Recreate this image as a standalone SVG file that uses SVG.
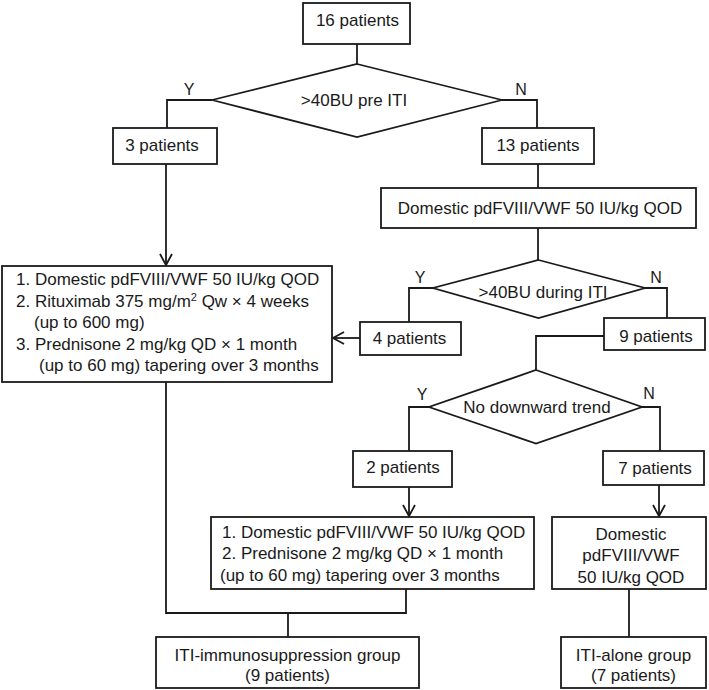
<svg xmlns="http://www.w3.org/2000/svg" width="709" height="690" viewBox="0 0 709 690">
<defs>
<style>
.box{fill:#fff;stroke:#1a1a1a;stroke-width:1.8}
.c{fill:none;stroke:#1a1a1a;stroke-width:1.8}
text{font-family:"Liberation Sans",Arial,sans-serif;font-size:17px;fill:#1a1a1a}
.m{text-anchor:middle}
.yn{font-size:16px;text-anchor:middle}
</style>
<marker id="arr" viewBox="0 0 14 14" refX="12" refY="7" markerWidth="14" markerHeight="14" markerUnits="userSpaceOnUse" orient="auto">
<path d="M1,1 L12,7 L1,13" fill="none" stroke="#1a1a1a" stroke-width="1.8"/>
</marker>
</defs>
<rect width="709" height="690" fill="#fff"/>
<g id="connectors">
<path class="c" d="M357,44 V64"/>
<path class="c" d="M212,100 H167 V128"/>
<path class="c" d="M502,100 H537 V128"/>
<path class="c" d="M166,164 V265" marker-end="url(#arr)"/>
<path class="c" d="M538,164 V188"/>
<path class="c" d="M538,228 V260"/>
<path class="c" d="M433,288 H409 V322"/>
<path class="c" d="M360,338 H333" marker-end="url(#arr)"/>
<path class="c" d="M645,288 H667 V318"/>
<path class="c" d="M604,336 H536 V370"/>
<path class="c" d="M429,407 H409 V451"/>
<path class="c" d="M642,407 H660 V451"/>
<path class="c" d="M409,487 V516" marker-end="url(#arr)"/>
<path class="c" d="M659,485 V516" marker-end="url(#arr)"/>
<path class="c" d="M166,382 V613 H406 V589"/>
<path class="c" d="M288,613 V637"/>
<path class="c" d="M629,589 V637"/>
</g>
<g id="labels">
<text class="yn" x="189" y="95">Y</text>
<text class="yn" x="521" y="95">N</text>
<text class="yn" x="420" y="283">Y</text>
<text class="yn" x="656" y="283">N</text>
<text class="yn" x="422" y="400">Y</text>
<text class="yn" x="649" y="399">N</text>
</g>
<g id="n16">
<rect class="box" x="303" y="3" width="107" height="41"/>
<text class="m" x="357.5" y="26">16 patients</text>
</g>
<g id="d1">
<polygon class="box" points="357,64 502,100 357,137 212,100"/>
<text class="m" x="354" y="105.5">&gt;40BU pre ITI</text>
</g>
<g id="n3">
<rect class="box" x="113" y="128" width="104" height="36"/>
<text class="m" x="162" y="151">3 patients</text>
</g>
<g id="n13">
<rect class="box" x="482" y="128" width="112" height="36"/>
<text class="m" x="538" y="151">13 patients</text>
</g>
<g id="dom1">
<rect class="box" x="381" y="188" width="315" height="40"/>
<text class="m" x="540" y="214">Domestic pdFVIII/VWF 50 IU/kg QOD</text>
</g>
<g id="d2">
<polygon class="box" points="538.5,260 645,288 538.5,318 433,288"/>
<text class="m" x="543" y="298">&gt;40BU during ITI</text>
</g>
<g id="n4">
<rect class="box" x="360" y="322" width="101" height="33"/>
<text class="m" x="409.5" y="344">4 patients</text>
</g>
<g id="n9">
<rect class="box" x="604" y="318" width="101" height="32"/>
<text class="m" x="656" y="342">9 patients</text>
</g>
<g id="left">
<rect class="box" x="2" y="266" width="330" height="116"/>
<text x="16" y="285">1. Domestic pdFVIII/VWF 50 IU/kg QOD</text>
<text x="16" y="306.5">2. Rituximab 375 mg/m<tspan dy="-6" font-size="11">2</tspan><tspan dy="6"> Qw × 4 weeks</tspan></text>
<text x="34" y="328">(up to 600 mg)</text>
<text x="16" y="349.5">3. Prednisone 2 mg/kg QD × 1 month</text>
<text x="39" y="371">(up to 60 mg) tapering over 3 months</text>
</g>
<g id="d3">
<polygon class="box" points="536,370 642,407 536,443.5 429,407"/>
<text class="m" x="537" y="413">No downward trend</text>
</g>
<g id="n2">
<rect class="box" x="353" y="451" width="99" height="36"/>
<text class="m" x="403" y="473">2 patients</text>
</g>
<g id="n7">
<rect class="box" x="603" y="451" width="101" height="34"/>
<text class="m" x="655" y="474">7 patients</text>
</g>
<g id="box2">
<rect class="box" x="211" y="517" width="323" height="72"/>
<text x="222" y="537.5">1. Domestic pdFVIII/VWF 50 IU/kg QOD</text>
<text x="222" y="559">2. Prednisone 2 mg/kg QD × 1 month</text>
<text x="220" y="580.5">(up to 60 mg) tapering over 3 months</text>
</g>
<g id="box3">
<rect class="box" x="552" y="517" width="154" height="72"/>
<text class="m" x="631" y="539.5">Domestic</text>
<text class="m" x="631" y="561">pdFVIII/VWF</text>
<text class="m" x="631" y="582.5">50 IU/kg QOD</text>
</g>
<g id="iti-immuno">
<rect class="box" x="156" y="637" width="263" height="51"/>
<text class="m" x="287.5" y="661">ITI-immunosuppression group</text>
<text class="m" x="287.5" y="681">(9 patients)</text>
</g>
<g id="iti-alone">
<rect class="box" x="561" y="637" width="145" height="51"/>
<text class="m" x="633.5" y="661">ITI-alone group</text>
<text class="m" x="633.5" y="681">(7 patients)</text>
</g>
</svg>
